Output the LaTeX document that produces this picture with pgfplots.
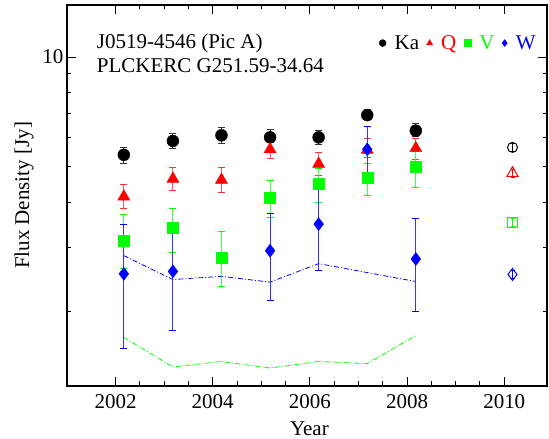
\documentclass[border=0pt]{standalone}
\usepackage{pgfplots}
\pgfplotsset{compat=1.18}
\usepackage{fontspec}
\setmainfont{Liberation Serif}
\definecolor{kaC}{RGB}{0,0,0}
\definecolor{qC}{RGB}{255,0,0}
\definecolor{vC}{RGB}{0,255,0}
\definecolor{wC}{RGB}{0,0,255}
\newcommand{\bigfont}{\fontsize{21}{24}\selectfont}
\begin{document}
\begin{tikzpicture}
\begin{axis}[
    scale only axis,
    width=480pt, height=381pt,
    xmin=2001, xmax=2010.88,
    ymode=log, ymin=1.25, ymax=13.9,
    xtick={2002,2004,2006,2008,2010},
    minor x tick num=3,
    ytick={10}, yticklabels={10},
    minor ytick={2,3,4,5,6,7,8,9},
    tick align=inside,
    major tick length=9pt, minor tick length=4.5pt,
    every tick/.style={black, line width=1pt},
    axis line style={line width=1.3pt},
    /pgf/number format/1000 sep={},
    /pgf/number format/assume math mode=true,
    tick label style={font=\bigfont},
    xticklabel style={yshift=-5pt},
    label style={font=\bigfont},
    xlabel={Year},
    ylabel={Flux Density [Jy]},
    xlabel style={at={(axis description cs:0.505,-0.129)}, anchor=base},
    ylabel style={at={(axis description cs:-0.079,0.5)}, anchor=base},
    error bars/y dir=both, error bars/y explicit,
    legend columns=-1,
    legend style={draw=none, fill=none, font=\bigfont,
        at={(axis description cs:0.986,0.90)}, anchor=east,
        column sep=0pt, nodes={inner sep=1.5pt},
        /tikz/every odd column/.append style={column sep=7pt},
        /tikz/every even column/.append style={column sep=6pt}},
    legend image code/.code={\draw[#1, mark size=3.5pt] plot coordinates {(0cm,0cm)};},
]
% upper-limit style curves
\addplot[wC, line width=0.8pt, dash pattern=on 5pt off 2pt on 1pt off 2pt, forget plot]
  coordinates {(2002.17,2.85) (2003.18,2.45) (2004.18,2.50) (2005.18,2.41) (2006.18,2.71) (2007.18,2.56) (2008.18,2.42)};
\addplot[vC, line width=0.8pt, dash pattern=on 5pt off 2pt on 1pt off 2pt, forget plot]
  coordinates {(2002.17,1.70) (2003.18,1.41) (2004.18,1.46) (2005.18,1.40) (2006.18,1.46) (2007.18,1.44) (2008.18,1.72)};
% Ka
\addplot[only marks, mark=*, mark size=6pt, kaC, mark options={fill=kaC},
    error bars/error bar style={line width=1pt, kaC!80},
    error bars/error mark options={rotate=90, mark size=3.5pt, line width=1pt, kaC!80}]
  coordinates {
    (2002.17,5.39) += (0,0.25) -= (0,0.28)
    (2003.18,5.885) += (0,0.30) -= (0,0.28)
    (2004.18,6.10) += (0,0.30) -= (0,0.30)
    (2005.18,6.02) += (0,0.29) -= (0,0.20)
    (2006.18,6.02) += (0,0.26) -= (0,0.26)
    (2007.18,6.93) += (0,0.27) -= (0,0.21)
    (2008.18,6.28) += (0,0.30) -= (0,0.23)
  };
\addlegendentry{Ka}
% Q
\addplot[only marks, mark=triangle*, mark size=7pt, qC, mark options={fill=qC},
    error bars/error bar style={line width=1pt, qC!65},
    error bars/error mark options={rotate=90, mark size=3.5pt, line width=1pt, qC!80}]
  coordinates {
    (2002.17,4.14) += (0,0.34) -= (0,0.31)
    (2003.18,4.63) += (0,0.35) -= (0,0.33)
    (2004.18,4.60) += (0,0.37) -= (0,0.34)
    (2005.18,5.58) += (0,0.34) -= (0,0.32)
    (2006.18,5.09) += (0,0.38) -= (0,0.37)
    (2007.18,5.56) += (0,0.43) -= (0,0.26)
    (2008.18,5.62) += (0,0.37) -= (0,0.38)
  };
\addlegendentry{\textcolor{qC}{Q}}
% V
\addplot[only marks, mark=square*, mark size=5.5pt, vC, mark options={fill=vC},
    error bars/error bar style={line width=1pt, vC!75},
    error bars/error mark options={rotate=90, mark size=3.5pt, line width=1pt, vC}]
  coordinates {
    (2002.17,3.13) += (0,0.56) -= (0,0.50)
    (2003.18,3.39) += (0,0.46) -= (0,0.48)
    (2004.18,2.82) += (0,0.49) -= (0,0.47)
    (2005.18,4.10) += (0,0.47) -= (0,0.47)
    (2006.18,4.48) += (0,0.47) -= (0,0.49)
    (2007.18,4.65) += (0,0.46) -= (0,0.48)
    (2008.18,5.00) += (0,0.50) -= (0,0.61)
  };
\addlegendentry{\textcolor{vC}{V}}
% W
\addplot[only marks, mark=diamond*, mark size=6.5pt, wC, mark options={fill=wC},
    error bars/error bar style={line width=1pt, wC!80},
    error bars/error mark options={rotate=90, mark size=3.5pt, line width=1pt, wC}]
  coordinates {
    (2002.17,2.54) += (0,0.94) -= (0,0.96)
    (2003.18,2.58) += (0,0.81) -= (0,0.80)
    (2005.18,2.94) += (0,0.79) -= (0,0.80)
    (2006.18,3.48) += (0,0.90) -= (0,0.89)
    (2007.18,5.58) += (0,0.86) -= (0,0.83)
    (2008.18,2.79) += (0,0.82) -= (0,0.79)
  };
\addlegendentry{\textcolor{wC}{W}}
% 2010 open symbols
\addplot[only marks, mark=o, mark size=5pt, kaC, line width=1pt, forget plot,
    error bars/error bar style={line width=1pt},
    error bars/error mark options={rotate=90, mark size=2pt, line width=1pt}]
  coordinates {(2010.17,5.65) +- (0,0.14)};
\addplot[only marks, mark=triangle, mark size=6.5pt, qC, line width=1pt, forget plot,
    error bars/error bar style={line width=1pt},
    error bars/error mark options={rotate=90, mark size=2pt, line width=1pt}]
  coordinates {(2010.17,4.80) +- (0,0.12)};
\addplot[only marks, mark=square, mark size=5pt, vC, line width=1pt, forget plot,
    error bars/error bar style={line width=1pt},
    error bars/error mark options={rotate=90, mark size=2pt, line width=1pt}]
  coordinates {(2010.17,3.52) +- (0,0.09)};
\addplot[only marks, mark=diamond, mark size=6pt, wC, line width=1pt, forget plot,
    error bars/error bar style={line width=1pt},
    error bars/error mark options={rotate=90, mark size=2pt, line width=1pt}]
  coordinates {(2010.17,2.53) +- (0,0.07)};
\node[anchor=north west, align=left, font=\bigfont, inner sep=0pt]
  at (axis description cs:0.062,0.925) {J0519-4546 (Pic A)\\PLCKERC G251.59-34.64};
\end{axis}
\pgfresetboundingbox
\path ([shift={(-67pt,-53pt)}]current axis.south west) rectangle ([shift={(2pt,5pt)}]current axis.north east);
\end{tikzpicture}
\end{document}
